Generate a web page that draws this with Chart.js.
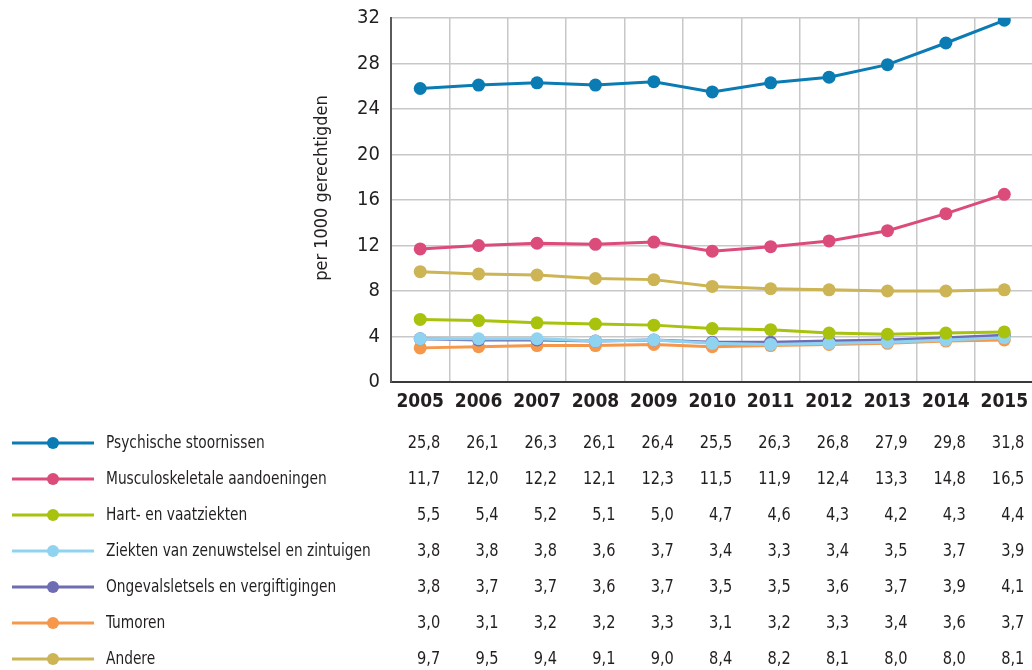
<!DOCTYPE html>
<html lang="nl">
  <head>
    <meta charset="UTF-8" />
    <title>Per 1000 gerechtigden</title>
    <script src="https://cdn.jsdelivr.net/npm/chart.js"></script>
    <style>
      html, body {
        margin: 0;
        padding: 0;
        background: #ffffff;
        overflow: hidden;
      }
      .wrap {
        position: relative;
        width: 1040px;
        height: 670px;
      }
    </style>
  </head>
  <body>
    <div class="wrap">
      <canvas id="chart" width="1040" height="670"></canvas>
    </div>

    <script>
      const FONT = '"Liberation Sans Narrow", "DejaVu Sans Condensed", "Roboto Condensed", sans-serif';

      const years = ["2005", "2006", "2007", "2008", "2009", "2010", "2011", "2012", "2013", "2014", "2015"];
      const yTicks = [0, 4, 8, 12, 16, 20, 24, 28, 32];

      const seriesNames = [
        "Psychische stoornissen",
        "Musculoskeletale aandoeningen",
        "Hart- en vaatziekten",
        "Ziekten van zenuwstelsel en zintuigen",
        "Ongevalsletsels en vergiftigingen",
        "Tumoren",
        "Andere",
      ];
      const seriesColors = ["#0a7bb3", "#dc4c7b", "#a8c20e", "#8fd3f1", "#6e6cb2", "#f5984c", "#cdb454"];

      const psychisch = [25.8, 26.1, 26.3, 26.1, 26.4, 25.5, 26.3, 26.8, 27.9, 29.8, 31.8];
      const musculo = [11.7, 12.0, 12.2, 12.1, 12.3, 11.5, 11.9, 12.4, 13.3, 14.8, 16.5];
      const hartVaat = [5.5, 5.4, 5.2, 5.1, 5.0, 4.7, 4.6, 4.3, 4.2, 4.3, 4.4];
      const zenuwstelsel = [3.8, 3.8, 3.8, 3.6, 3.7, 3.4, 3.3, 3.4, 3.5, 3.7, 3.9];
      const ongevallen = [3.8, 3.7, 3.7, 3.6, 3.7, 3.5, 3.5, 3.6, 3.7, 3.9, 4.1];
      const tumoren = [3.0, 3.1, 3.2, 3.2, 3.3, 3.1, 3.2, 3.3, 3.4, 3.6, 3.7];
      const andere = [9.7, 9.5, 9.4, 9.1, 9.0, 8.4, 8.2, 8.1, 8.0, 8.0, 8.1];

      const seriesData = [psychisch, musculo, hartVaat, zenuwstelsel, ongevallen, tumoren, andere];

      // the reference font is condensed, so squeeze text a bit horizontally
      function fillNarrow(ctx, text, x, y, squeeze) {
        ctx.save();
        ctx.translate(x, y);
        ctx.scale(squeeze, 1);
        ctx.fillText(text, 0, 0);
        ctx.restore();
      }

      // table under the chart: legend swatch, name and the values per year
      const tablePlugin = {
        id: "dataTable",
        afterDraw(chart) {
          const ctx = chart.ctx;
          const x = chart.scales.x;
          ctx.save();
          seriesNames.forEach((name, i) => {
            const y = 443 + i * 36;
            const color = seriesColors[i];
            ctx.strokeStyle = color;
            ctx.lineWidth = 3;
            ctx.beginPath();
            ctx.moveTo(12, y);
            ctx.lineTo(94, y);
            ctx.stroke();
            ctx.fillStyle = color;
            ctx.beginPath();
            ctx.arc(53, y, 6, 0, Math.PI * 2);
            ctx.fill();

            ctx.fillStyle = "#231f20";
            ctx.font = "18px " + FONT;
            ctx.textBaseline = "middle";
            ctx.textAlign = "left";
            fillNarrow(ctx, name, 106, y, 0.85);

            ctx.textAlign = "right";
            seriesData[i].forEach((v, j) => {
              const px = x.getPixelForValue(j) + 20;
              fillNarrow(ctx, v.toFixed(1).replace(".", ","), px, y, 0.9);
            });
          });

          // y axis title
          ctx.translate(322, 188);
          ctx.rotate(-Math.PI / 2);
          ctx.textAlign = "center";
          ctx.textBaseline = "middle";
          ctx.font = "18px " + FONT;
          ctx.fillText("per 1000 gerechtigden", 0, 0);
          ctx.restore();
        },
      };

      new Chart(document.getElementById("chart"), {
        type: "line",
        data: {
          labels: years,
          datasets: seriesNames.map((name, i) => ({
            label: name,
            data: seriesData[i],
            borderColor: seriesColors[i],
            backgroundColor: seriesColors[i],
            borderWidth: 3,
            pointRadius: 6.5,
            pointBorderWidth: 0,
            tension: 0,
          })),
        },
        options: {
          responsive: false,
          animation: false,
          events: [],
          layout: { padding: { top: 18, right: 2, bottom: 0, left: 0 } },
          plugins: {
            legend: { display: false },
            tooltip: { enabled: false },
          },
          scales: {
            x: {
              offset: true,
              grid: {
                offset: true,
                color: "#c8c8c8",
                lineWidth: 1.5,
                drawTicks: false,
              },
              border: { color: "#3a3a3a", width: 2 },
              ticks: {
                padding: 9,
                color: "#231f20",
                font: { family: FONT, size: 19, weight: "bold" },
                maxRotation: 0,
              },
              afterFit: (s) => {
                s.height = 288;
              },
            },
            y: {
              min: 0,
              max: 32,
              afterBuildTicks: (s) => {
                s.ticks = yTicks.map((v) => ({ value: v }));
              },
              grid: {
                color: "#c8c8c8",
                lineWidth: 1.5,
                drawTicks: false,
              },
              border: { color: "#5a5a5a", width: 2 },
              ticks: {
                padding: 11,
                color: "#231f20",
                font: { family: FONT, size: 20, lineHeight: 0.4 },
              },
              afterFit: (s) => {
                s.width = 391;
              },
            },
          },
        },
        plugins: [tablePlugin],
      });
    </script>
  </body>
</html>
